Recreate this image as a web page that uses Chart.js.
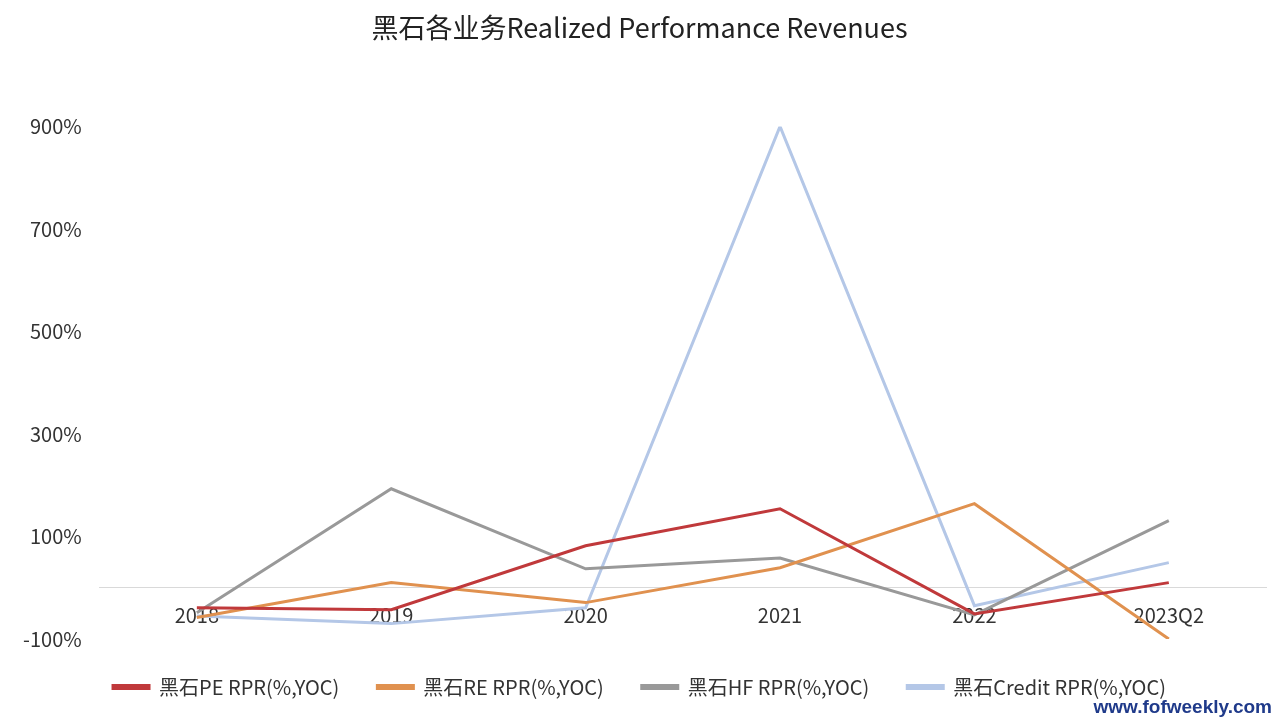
<!DOCTYPE html>
<html>
<head>
<meta charset="utf-8">
<script src="https://cdn.jsdelivr.net/npm/chart.js@4"></script>
<style>
  body { margin: 0; background: #fff; }
  #wrap { position: relative; width: 1280px; height: 720px; }
  #site { position: absolute; right: 8px; bottom: 2px; font: bold 19px "Liberation Sans", sans-serif; color: #1f3a8a; }
</style>
</head>
<body>
<div id="wrap">
  <canvas id="myChart" width="1280" height="720"></canvas>
  <div id="site">www.fofweekly.com</div>
</div>
<script>
const years = ["2018", "2019", "2020", "2021", "2022", "2023Q2"];
const peRPR = [-39, -43, 82, 154, -51, 10];
const reRPR = [-58, 10, -29, 39, 164, -100];
const hfRPR = [-49, 193, 37, 58, -53, 131];
const creditRPR = [-55, -70, -39, 900, -35, 49];

const fuente = "'Noto Sans CJK SC', 'Noto Sans', sans-serif";

function serie(label, data, color) {
  return { label: label, data: data, borderColor: color, backgroundColor: color,
           borderWidth: 3, pointRadius: 0, tension: 0 };
}

const config = {
  type: "line",
  data: {
    labels: years,
    datasets: [
      serie("黑石PE RPR(%,YOC)", peRPR, "#c0393b"),
      serie("黑石RE RPR(%,YOC)", reRPR, "#e0914f"),
      serie("黑石HF RPR(%,YOC)", hfRPR, "#999999"),
      serie("黑石Credit RPR(%,YOC)", creditRPR, "#b4c7e7"),
    ],
  },
  options: {
    responsive: false,
    animation: false,
    layout: { padding: { left: 13, right: 14, top: 0, bottom: 13 } },
    plugins: {
      title: { display: true, text: "黑石各业务Realized Performance Revenues",
               font: { family: fuente, size: 27, weight: "normal" }, color: "#222", padding: { top: 12, bottom: 82 } },
      legend: { position: "bottom",
                labels: { font: { family: fuente, size: 20 }, color: "#333", boxWidth: 36, boxHeight: 3, padding: 38 } },
      tooltip: { enabled: false },
    },
    scales: {
      x: {
        position: { y: 0 },
        offset: true,
        grid: { display: false },
        border: { color: "#d9d9d9", width: 1 },
        ticks: { font: { family: fuente, size: 20 }, color: "#333", padding: 8 },
      },
      y: {
        min: -100, max: 900,
        grid: { display: false },
        border: { display: false },
        ticks: { stepSize: 200, padding: 10, font: { family: fuente, size: 20 }, color: "#333",
                 callback: (v) => v + "%" },
      },
    },
  },
};

new Chart(document.getElementById("myChart"), config);
</script>
</body>
</html>
